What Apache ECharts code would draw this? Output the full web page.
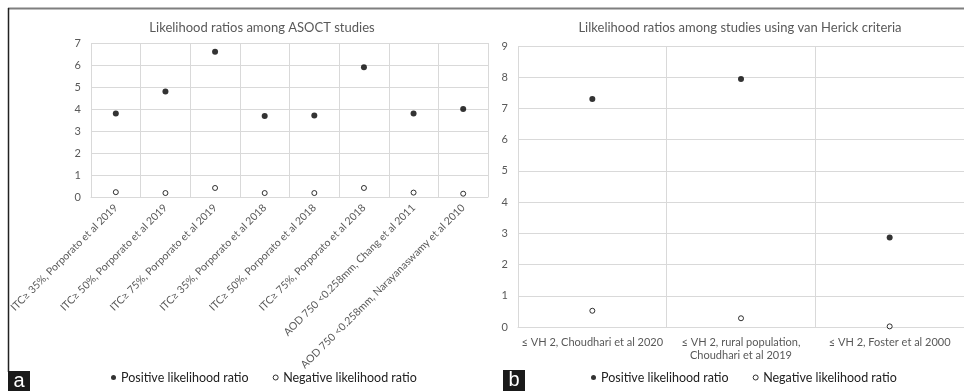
<!DOCTYPE html>
<html>
<head>
<meta charset="utf-8">
<script src="https://cdn.jsdelivr.net/npm/echarts@6/dist/echarts.min.js"></script>
<style>
html,body{margin:0;padding:0;background:#fff;}
#c{width:964px;height:391px;}
</style>
</head>
<body>
<div id="c"></div>
<script>
var titleA = 'Likelihood ratios among ASOCT studies';
var titleB = 'Lilkelihood ratios among studies using van Herick criteria';
var catsA = ['ITC≥ 35%, Porporato et al 2019','ITC≥ 50%, Porporato et al 2019','ITC≥ 75%, Porporato et al 2019','ITC≥ 35%, Porporato et al 2018','ITC≥ 50%, Porporato et al 2018','ITC≥ 75%, Porporato et al 2018','AOD 750 <0.258mm, Chang et al 2011','AOD 750 <0.258mm, Narayanaswamy et al 2010'];
var posA = [3.8, 4.8, 6.6, 3.68, 3.7, 5.9, 3.8, 4.0];
var negA = [0.22, 0.18, 0.41, 0.18, 0.18, 0.41, 0.2, 0.15];
var catsB = ['≤ VH 2, Choudhari et al 2020','≤ VH 2, rural population,\nChoudhari et al 2019','≤ VH 2, Foster et al 2000'];
var posB = [7.3, 7.94, 2.87];
var negB = [0.52, 0.28, 0.02];
var yTicksA = {min: 0, max: 7, interval: 1};
var yTicksB = {min: 0, max: 9, interval: 1};
var seriesNames = ['Positive likelihood ratio', 'Negative likelihood ratio'];

var FONT = 'Lato, "Open Sans", sans-serif';
var GRAY = '#595959';
var GRID = '#d9d9d9';

var chart = echarts.init(document.getElementById('c'), null, {renderer: 'canvas'});

function catAxis(idx, data, rotate, fs) {
  return {
    type: 'category', gridIndex: idx, data: data, boundaryGap: true,
    axisLine: {show: true, lineStyle: {color: GRID, width: 1}},
    axisTick: {show: false},
    splitLine: {show: true, lineStyle: {color: GRID, width: 1}},
    axisLabel: {interval: 0, rotate: rotate, color: GRAY, fontSize: fs, fontFamily: FONT, margin: 9, lineHeight: 13}
  };
}
function valAxis(idx, t) {
  return {
    type: 'value', gridIndex: idx, min: t.min, max: t.max, interval: t.interval,
    axisLine: {show: false}, axisTick: {show: false},
    splitLine: {show: true, lineStyle: {color: GRID, width: 1}},
    axisLabel: {color: GRAY, fontSize: 11, fontFamily: FONT, margin: 10}
  };
}
var hollow = {color: '#fff', borderColor: '#000', borderWidth: 1};
var solid = {color: '#000'};
function legend(left) {
  return {
    left: left, top: 366, itemWidth: 5, itemHeight: 5, itemGap: 24,
    textStyle: {color: '#222', fontSize: 12.5, fontFamily: FONT},
    data: [
      {name: seriesNames[0], icon: 'circle', itemStyle: solid},
      {name: seriesNames[1], icon: 'circle', itemStyle: hollow}
    ]
  };
}

var option = {
  backgroundColor: '#fff',
  animation: false,
  title: [
    {text: titleA, left: 257, textAlign: 'center', top: 16, textStyle: {color: GRAY, fontSize: 13, fontWeight: 'normal', fontFamily: FONT}},
    {text: titleB, left: 735, textAlign: 'center', top: 16, textStyle: {color: GRAY, fontSize: 13, fontWeight: 'normal', fontFamily: FONT}}
  ],
  legend: [legend(106), legend(586)],
  grid: [
    {left: 91, right: 476, top: 43, bottom: 194},
    {left: 518, right: 0, top: 46, bottom: 64}
  ],
  xAxis: [catAxis(0, catsA, 45, 10.5), catAxis(1, catsB, 0, 11)],
  yAxis: [valAxis(0, yTicksA), valAxis(1, yTicksB)],
  series: [
    {name: seriesNames[0], type: 'scatter', xAxisIndex: 0, yAxisIndex: 0, data: posA, symbol: 'circle', symbolSize: 6, itemStyle: solid},
    {name: seriesNames[1], type: 'scatter', xAxisIndex: 0, yAxisIndex: 0, data: negA, symbol: 'circle', symbolSize: 5, itemStyle: hollow},
    {name: seriesNames[0], type: 'scatter', xAxisIndex: 1, yAxisIndex: 1, data: posB, symbol: 'circle', symbolSize: 6, itemStyle: solid},
    {name: seriesNames[1], type: 'scatter', xAxisIndex: 1, yAxisIndex: 1, data: negB, symbol: 'circle', symbolSize: 5, itemStyle: hollow}
  ],
  graphic: [
    {type: 'line', shape: {x1: 8, y1: 8.5, x2: 964, y2: 8.5}, style: {stroke: '#7f7f7f', lineWidth: 2}},
    {type: 'line', shape: {x1: 8.5, y1: 8, x2: 8.5, y2: 372}, style: {stroke: '#222', lineWidth: 1.5}},
    {type: 'rect', shape: {x: 8, y: 371, width: 22, height: 20}, style: {fill: '#1a1a1a'}},
    {type: 'text', x: 19, y: 381, style: {text: 'a', fill: '#fff', font: '20px "Liberation Sans", Arial, sans-serif', align: 'center', verticalAlign: 'middle'}},
    {type: 'rect', shape: {x: 503, y: 370, width: 22, height: 21}, style: {fill: '#1a1a1a'}},
    {type: 'text', x: 514, y: 380, style: {text: 'b', fill: '#fff', font: '20px "Liberation Sans", Arial, sans-serif', align: 'center', verticalAlign: 'middle'}}
  ]
};
chart.setOption(option);
</script>
</body>
</html>
